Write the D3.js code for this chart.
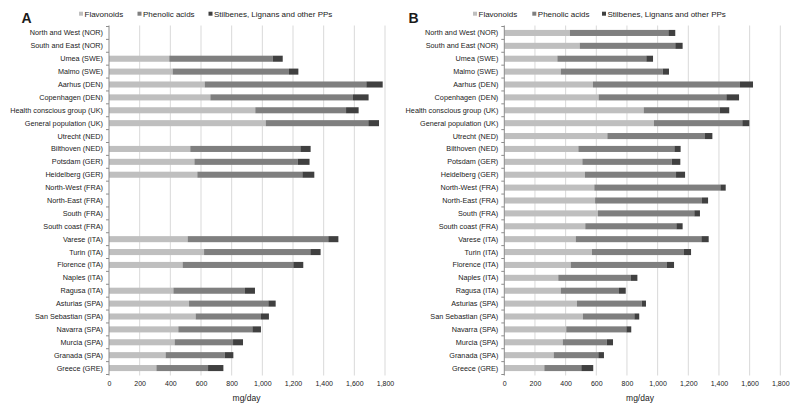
<!DOCTYPE html>
<html><head><meta charset="utf-8">
<script src="https://cdn.jsdelivr.net/npm/d3@7"></script>
<style>
body{margin:0;background:#fff;}
svg{display:block;font-family:"Liberation Sans",Arial,sans-serif;}
</style></head>
<body>
<svg id="chart" width="800" height="416"></svg>
<script>
const categories = ["North and West (NOR)","South and East (NOR)","Umea (SWE)","Malmo (SWE)","Aarhus (DEN)","Copenhagen (DEN)","Health conscious group (UK)","General population (UK)","Utrecht (NED)","Bilthoven (NED)","Potsdam (GER)","Heidelberg (GER)","North-West (FRA)","North-East (FRA)","South (FRA)","South coast (FRA)","Varese (ITA)","Turin (ITA)","Florence (ITA)","Naples (ITA)","Ragusa (ITA)","Asturias (SPA)","San Sebastian (SPA)","Navarra (SPA)","Murcia (SPA)","Granada (SPA)","Greece (GRE)"];
const seriesNames = ["Flavonoids","Phenolic acids","Stilbenes, Lignans and other PPs"];
const seriesColors = ["#bfbfbf","#7f7f7f","#404040"];
const xTicks = [0,200,400,600,800,1000,1200,1400,1600,1800];

// Panel A
const flavA  = [null,null,393,415,624,661,954,1022,null,530,557,576,null,null,null,null,513,620,480,null,420,522,565,452,428,369,309];
const phenA  = [null,null,674,759,1054,930,592,669,null,718,673,685,null,null,null,null,917,693,722,null,467,517,426,483,381,385,337];
const stilbA = [null,null,66,61,107,102,82,70,null,67,78,78,null,null,null,null,66,67,65,null,65,48,52,56,65,57,100];
// Panel B
const flavB  = [428,492,346,368,578,615,909,976,672,483,509,526,587,592,611,528,466,572,433,352,368,474,513,404,381,322,261];
const phenB  = [642,623,580,665,959,833,496,576,637,626,583,594,822,697,628,594,819,600,628,474,380,422,335,392,287,291,241];
const stilbB = [45,48,44,41,85,83,62,46,48,41,56,59,35,40,37,41,48,46,46,42,44,28,32,32,41,37,78];

const svg = d3.select("#chart");

function panel(letter, x0, flav, phen, stilb, legendX, mgX) {
  const g = svg.append("g");
  const x = d3.scaleLinear().domain([0,1800]).range([x0, x0+276]);
  const y = d3.scaleBand().domain(categories).range([26.5, 374.5]).paddingInner(0.53).paddingOuter(0.265);
  const top = 25.5, bottom = 375.5;

  // gridlines
  g.selectAll(".grid").data(xTicks.slice(1)).join("line")
    .attr("x1", d=>x(d)).attr("x2", d=>x(d))
    .attr("y1", top).attr("y2", bottom)
    .attr("stroke","#d9d9d9").attr("stroke-width",1);

  // stacked bars
  const rows = categories.map((c,i)=>({c, v:[flav[i],phen[i],stilb[i]]}));
  rows.forEach(r=>{
    if (r.v[0]==null) return;
    let acc = 0;
    r.v.forEach((v,k)=>{
      g.append("rect")
        .attr("x", x(acc)).attr("width", x(acc+v)-x(acc))
        .attr("y", y(r.c)).attr("height", y.bandwidth())
        .attr("fill", seriesColors[k]);
      acc += v;
    });
  });

  // y axis line + ticks at boundaries
  g.append("line").attr("x1",x0).attr("x2",x0).attr("y1",top).attr("y2",bottom)
    .attr("stroke","#8c8c8c").attr("stroke-width",1);
  const step = y.step();
  const bounds = d3.range(categories.length+1).map(i=> y(categories[0]) - y.paddingInner()*step/2 + i*step);
  g.selectAll(".yt").data(bounds).join("line")
    .attr("x1",x0-3).attr("x2",x0).attr("y1",d=>d).attr("y2",d=>d)
    .attr("stroke","#8c8c8c");

  // category labels
  g.selectAll(".lab").data(categories).join("text")
    .attr("x", x0-6).attr("y", d=>y(d)+y.bandwidth()/2)
    .attr("dy","0.35em").attr("text-anchor","end")
    .attr("font-size","7.25px").attr("fill","#1a1a1a").text(d=>d);

  // x axis labels
  const ax = d3.axisBottom(x).tickValues(xTicks).tickSize(0).tickFormat(d3.format(","));
  const axg = g.append("g").attr("transform",`translate(0,${bottom+2})`).call(ax);
  axg.select(".domain").remove();
  axg.selectAll("text").attr("font-size","7px").attr("fill","#1a1a1a").attr("font-family","Liberation Sans, Arial, sans-serif").attr("dy","0.85em");

  g.append("text").attr("x", mgX).attr("y", 398).attr("dy","0.35em")
    .attr("text-anchor","middle").attr("font-size","8.5px").attr("fill","#1a1a1a").text("mg/day");

  // panel letter
  g.append("text").attr("x", letter==="A"?21.5:408.5).attr("y", 22.5)
    .attr("font-size","14px").attr("font-weight","bold").attr("fill","#1a1a1a").text(letter);

  // legend
  const lg = g.append("g");
  seriesNames.forEach((n,k)=>{
    lg.append("rect").attr("x", legendX[k]).attr("y", 11.7).attr("width",4).attr("height",4)
      .attr("fill", seriesColors[k]);
    lg.append("text").attr("x", legendX[k]+5.5).attr("y", 13.7).attr("dy","0.35em")
      .attr("font-size","8px").attr("fill","#1a1a1a").text(n);
  });
}

panel("A", 109, flavA, phenA, stilbA, [79, 137.5, 208.5], 246.5);
panel("B", 504.3, flavB, phenB, stilbB, [473, 532.3, 602], 640);
</script>
</body></html>
